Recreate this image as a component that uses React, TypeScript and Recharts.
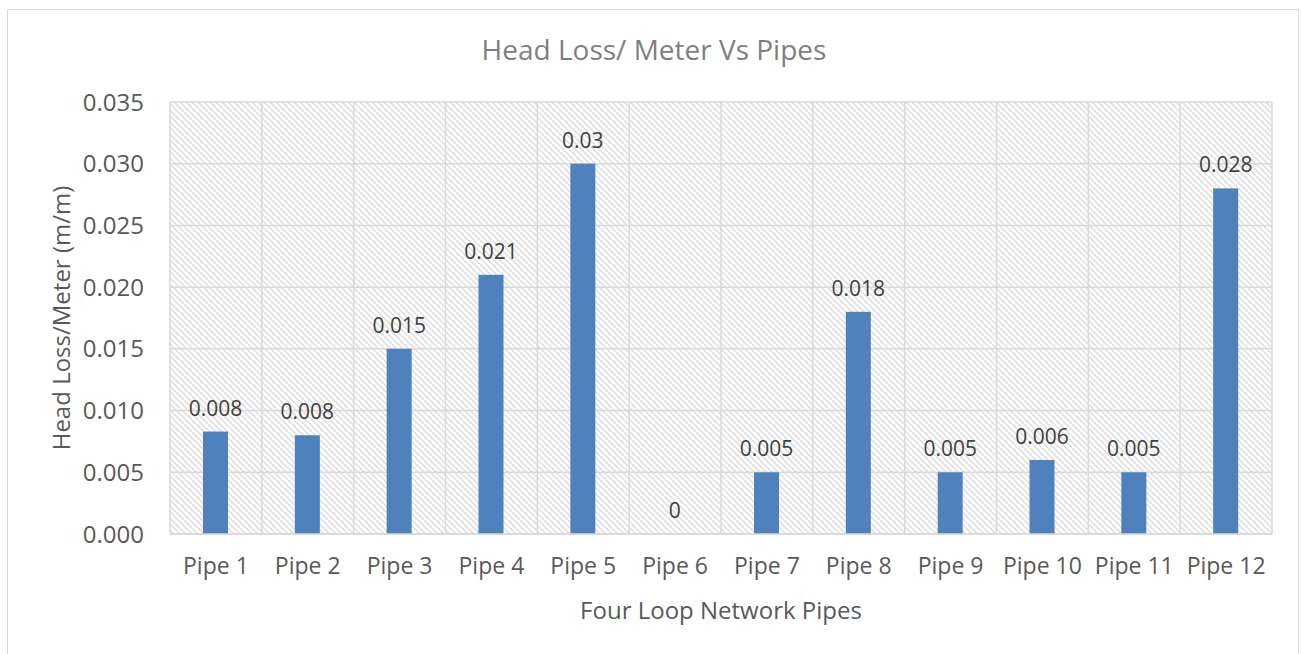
import React from "react";
import { BarChart, Bar, XAxis, YAxis, CartesianGrid, Label } from "recharts";

const pipes = ["Pipe 1", "Pipe 2", "Pipe 3", "Pipe 4", "Pipe 5", "Pipe 6", "Pipe 7", "Pipe 8", "Pipe 9", "Pipe 10", "Pipe 11", "Pipe 12"];
const headLoss = [0.0083, 0.008, 0.015, 0.021, 0.03, 0, 0.005, 0.018, 0.005, 0.006, 0.005, 0.028];
const yTicks = [0, 0.005, 0.01, 0.015, 0.02, 0.025, 0.03, 0.035];

const data = pipes.map((name, i) => ({ name, loss: headLoss[i] }));

const font = "'Open Sans', sans-serif";
const textColor = "#595959";

const fmt = (v: any) => String(Number(Number(v).toFixed(3)));

// bar plus its value label, so a zero bar still gets its "0"
function BarWithValue(props: any) {
  const { x, y, width, height, fill, payload } = props;
  const h = Math.max(0, height);
  return (
    <g>
      {h > 0.5 && <rect x={x} y={y} width={width} height={h} fill={fill} />}
      <text x={x + width / 2} y={y - 16} textAnchor="middle" fill="#404040" fontSize={21} fontFamily={font}>
        {fmt(payload.loss)}
      </text>
    </g>
  );
}

export default function App() {
  return (
    <div style={{ position: "absolute", left: 0, top: 0, width: 1302, height: 654, background: "#fff", overflow: "hidden", fontFamily: font }}>
      <div style={{ position: "absolute", left: 7, top: 9, width: 1292, height: 700, border: "1px solid #d9d9d9", boxSizing: "border-box" }} />
      <div style={{ position: "absolute", left: 0, top: 30, width: 1308, textAlign: "center", fontSize: 28, lineHeight: "38px", color: "#7f7f7f" }}>
        Head Loss/ Meter Vs Pipes
      </div>
      <div style={{ position: "absolute", left: 0, top: 0 }}>
        <BarChart width={1302} height={654} data={data} margin={{ top: 102, right: 30, bottom: 0, left: 0 }} barSize={25}>
          <defs>
            <pattern id="hatch" width="6" height="6" patternUnits="userSpaceOnUse">
              <rect width="6" height="6" fill="#fff" />
              <path d="M-1,-1 L7,7 M-1,5 L1,7 M5,-1 L7,1" stroke="#dcdcdc" strokeWidth="1.4" />
            </pattern>
          </defs>
          <CartesianGrid
            fill="url(#hatch)"
            stroke="#d9d9d9"
            strokeWidth={1.5}
            strokeDasharray=""
            verticalCoordinatesGenerator={({ offset }: any) =>
              Array.from({ length: pipes.length + 1 }, (_, i) => offset.left + (i * offset.width) / pipes.length)
            }
          />
          <XAxis
            dataKey="name"
            tickLine={false}
            axisLine={{ stroke: "#d9d9d9", strokeWidth: 1.5 }}
            tickSize={0}
            tickMargin={24}
            interval={0}
            tick={{ fill: textColor, fontSize: 23, fontFamily: font }}
            height={120}
          >
            <Label
              content={({ viewBox }: any) => (
                <text x={viewBox.x + viewBox.width / 2} y={viewBox.y + 85} textAnchor="middle" fill={textColor} fontSize={24} fontFamily={font}>
                  Four Loop Network Pipes
                </text>
              )}
            />
          </XAxis>
          <YAxis
            domain={[0, 0.035]}
            ticks={yTicks}
            tickFormatter={(v: number) => v.toFixed(3)}
            tickLine={false}
            axisLine={false}
            tickSize={0}
            tickMargin={26}
            width={170}
            tick={{ fill: textColor, fontSize: 24, fontFamily: font }}
          >
            <Label
              content={({ viewBox }: any) => {
                const cx = 60;
                const cy = viewBox.y + viewBox.height / 2;
                return (
                  <text x={cx} y={cy} transform={`rotate(-90 ${cx} ${cy})`} textAnchor="middle" dominantBaseline="central" fill={textColor} fontSize={24} fontFamily={font}>
                    Head Loss/Meter (m/m)
                  </text>
                );
              }}
            />
          </YAxis>
          <Bar dataKey="loss" fill="#4f81bd" isAnimationActive={false} minPointSize={0.01} shape={BarWithValue} />
        </BarChart>
      </div>
    </div>
  );
}
